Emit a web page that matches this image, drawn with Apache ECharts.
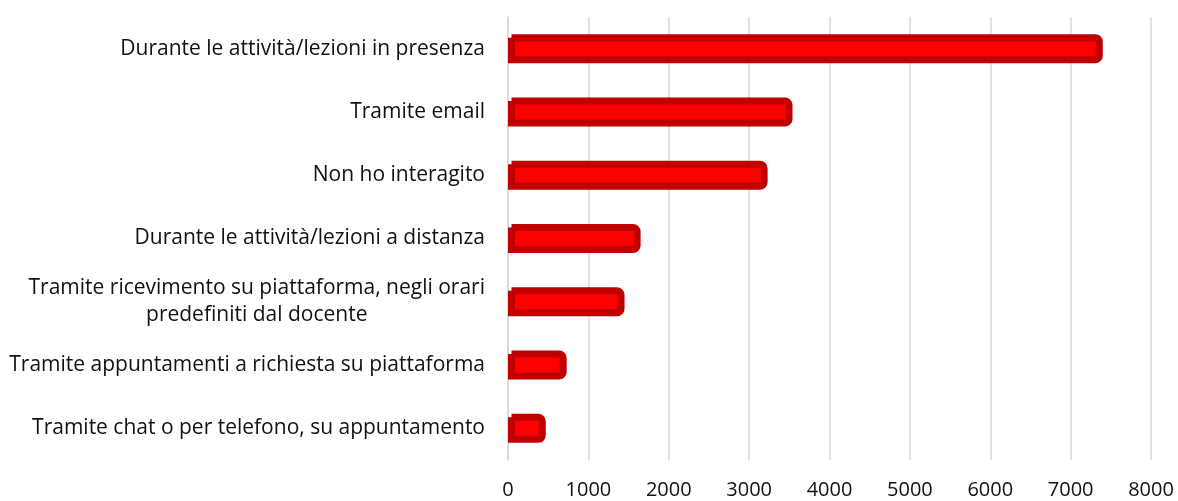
<!DOCTYPE html>
<html>
<head>
<meta charset="utf-8">
<script src="https://cdn.jsdelivr.net/npm/echarts@6/dist/echarts.min.js"></script>
<style>
  html, body { margin: 0; padding: 0; background: #fff; }
  #barChart { width: 1178px; height: 501px; }
</style>
</head>
<body>
<div id="barChart"></div>
<script>
  let categories = [
    'Durante le attività/lezioni in presenza',
    'Tramite email',
    'Non ho interagito',
    'Durante le attività/lezioni a distanza',
    'Tramite ricevimento su piattaforma, negli orari\npredefiniti dal docente',
    'Tramite appuntamenti a richiesta su piattaforma',
    'Tramite chat o per telefono, su appuntamento'
  ]
  let values = [7400, 3540, 3230, 1650, 1450, 730, 470]
  let xTicks = [0, 1000, 2000, 3000, 4000, 5000, 6000, 7000, 8000]

  let labelFont = 'Open Sans'
  let dom = document.getElementById('barChart')
  let myChart = echarts.init(dom)
  let option = {
    animation: false,
    grid: {
      left: 508,
      right: 27,
      top: 17,
      bottom: 41,
      containLabel: false
    },
    xAxis: {
      type: 'value',
      min: xTicks[0],
      max: xTicks[xTicks.length - 1],
      interval: 1000,
      axisLine: { show: false },
      axisTick: { show: false },
      axisLabel: {
        color: '#111',
        fontSize: 20,
        fontFamily: labelFont,
        margin: 20,
        formatter: function (v) { return String(v) }
      },
      splitLine: {
        show: true,
        lineStyle: { color: '#D9D9D9', width: 1.5 }
      }
    },
    yAxis: {
      type: 'category',
      inverse: true,
      data: categories,
      axisLine: { show: true, lineStyle: { color: '#D9D9D9', width: 1.5 } },
      axisTick: { show: false },
      axisLabel: {
        margin: 23,
        color: '#111',
        fontSize: 21,
        fontFamily: labelFont,
        // lines of a wrapped label are centred on each other
        formatter: function (val) {
          return val.split('\n').map(function (s) { return '{c|' + s + '}' }).join('\n')
        },
        rich: {
          c: {
            align: 'center',
            color: '#111',
            fontSize: 21,
            fontFamily: labelFont,
            lineHeight: 27
          }
        }
      }
    },
    series: [
      {
        type: 'bar',
        data: values,
        barWidth: 29,
        itemStyle: {
          color: '#FF0000',
          borderColor: '#C00000',
          borderWidth: 7,
          borderRadius: [0, 4, 4, 0]
        }
      }
    ]
  }
  myChart.setOption(option)
</script>
</body>
</html>
